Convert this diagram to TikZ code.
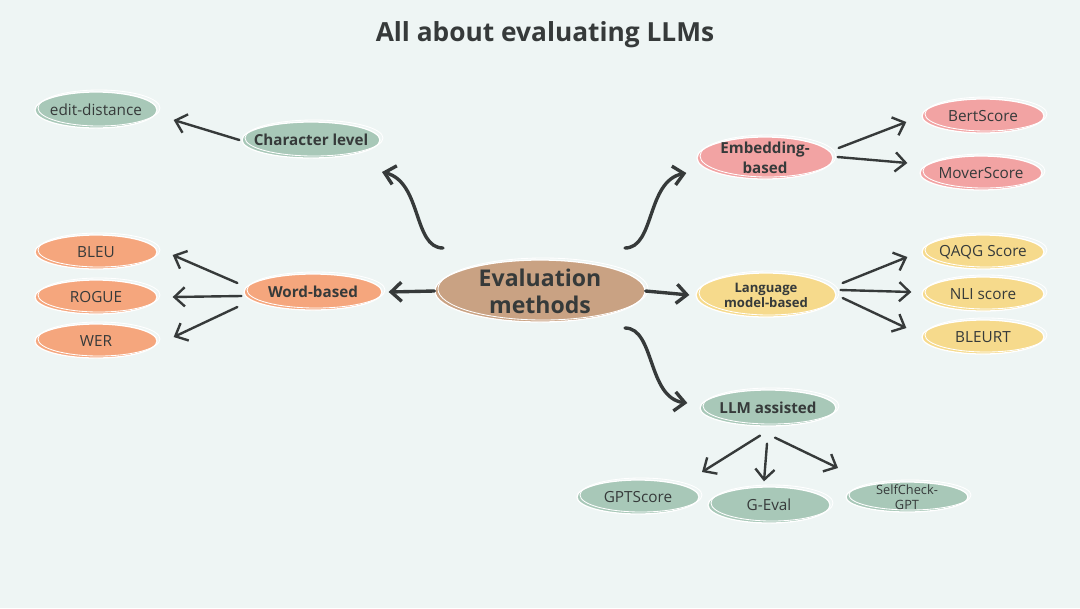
\documentclass[tikz,border=0pt]{standalone}
\usepackage{fontspec}
\setmainfont{Open Sans}
\usetikzlibrary{shapes.geometric,arrows.meta,positioning}

\definecolor{bgmint}{HTML}{EEF5F4}
\definecolor{ink}{HTML}{363A3A}
\definecolor{sage}{HTML}{A8C8B8}
\definecolor{tan}{HTML}{C9A283}
\definecolor{salmon}{HTML}{F5A67D}
\definecolor{rose}{HTML}{F2A3A3}
\definecolor{butter}{HTML}{F6DA8C}

\begin{document}
\begin{tikzpicture}[
  x=0.025cm, y=-0.025cm,
  bubble/.style={ellipse, fill=#1, draw=white, line width=0.9pt, inner sep=-1cm,
                 align=center, text=ink,
                 postaction={draw=white, line width=0.6pt,
                             transform canvas={shift={(3,-2)}}}},
  mid/.style={bubble=#1, minimum width=3.45cm, minimum height=0.9cm,
              font=\bfseries\fontsize{10.8}{14}\selectfont},
  leaf/.style={bubble=#1, minimum width=3.05cm, minimum height=0.85cm,
               font=\fontsize{10.9}{13}\selectfont},
  link/.style={-{Straight Barb[length=2.6mm,width=4.8mm]}, draw=ink,
               line width=2.4pt, line cap=round},
  twig/.style={link, line width=1.7pt},
]
  \useasboundingbox[fill=bgmint] (0,0) rectangle (1080,608);

  \node[font=\bfseries\fontsize{18.7}{22}\selectfont, text=ink] (title) at (545,35)
    {All about evaluating LLMs};

  \node[bubble=tan, minimum width=5.25cm, minimum height=1.55cm,
        font=\bfseries\fontsize{16.4}{19}\selectfont] (ctr) at (540,291)
    {Evaluation\\methods};

  \node[mid=sage] (char) at (311,140) {Character level};
  \node[mid=salmon] (word) at (313,292) {Word-based};
  \node[mid=rose, minimum width=3.4cm, minimum height=1.05cm] (emb) at (765,158)
    {Embedding-\\based};
  \node[mid=butter, minimum width=3.5cm, minimum height=1.1cm,
        font=\bfseries\fontsize{9.3}{10.8}\selectfont] (lm) at (766,295)
    {Language\\model-based};
  \node[mid=sage, minimum width=3.4cm] (llm) at (768,408) {LLM assisted};

  \node[leaf=sage, minimum height=0.9cm] (edit) at (96,110) {edit-distance};
  \node[leaf=salmon] (bleu) at (96,252) {BLEU};
  \node[leaf=salmon] (rogue) at (96,297) {ROGUE};
  \node[leaf=salmon] (wer) at (96,341) {WER};
  \node[leaf=rose] (bert) at (983,116) {BertScore};
  \node[leaf=rose] (mover) at (981,173) {MoverScore};
  \node[leaf=butter] (qaqg) at (983,252) {QAQG Score};
  \node[leaf=butter] (nli) at (983,294) {NLI score};
  \node[leaf=butter] (bleurt) at (983,337) {BLEURT};
  \node[leaf=sage] (gpt) at (638,497) {GPTScore};
  \node[leaf=sage, minimum height=0.9cm] (geval) at (769,505) {G-Eval};
  \node[leaf=sage, minimum height=0.75cm,
        font=\fontsize{9.1}{10.5}\selectfont] (selfcheck) at (907,497) {SelfCheck-\\GPT};

  \draw[link] ([shift={(-97,-43)}]ctr.center) .. controls +(-30,0) and +(40,10)
    .. ([shift={(71,32)}]char.center);
  \draw[link] ([shift={(85,-43)}]ctr.center) .. controls +(30,0) and +(-40,8)
    .. ([shift={(-10,15)}]emb.west);
  \draw[link] ([shift={(85,37)}]ctr.center) .. controls +(30,0) and +(-40,-5)
    .. ([shift={(-12,-5)}]llm.west);
  \draw[link] (ctr.west) -- ([shift={(6,0)}]word.east);
  \draw[link] (ctr.east) -- ([shift={(-6,0)}]lm.west);

  \draw[twig] ([shift={(-2,0)}]char.west) -- ([shift={(16,10)}]edit.east);

  \draw[twig] ([shift={(-6,-9)}]word.west) -- ([shift={(15,3)}]bleu.east);
  \draw[twig] ([shift={(-2,4)}]word.west) -- ([shift={(15,0)}]rogue.east);
  \draw[twig] ([shift={(-6,15)}]word.west) -- ([shift={(16,-4)}]wer.east);

  \draw[twig] ([shift={(5,-10)}]emb.east) -- ([shift={(-15,6)}]bert.west);
  \draw[twig] ([shift={(4,-1)}]emb.east) -- ([shift={(-12,-10)}]mover.west);

  \draw[twig] ([shift={(6,-12)}]lm.east) -- ([shift={(-14,5)}]qaqg.west);
  \draw[twig] ([shift={(4,-5)}]lm.east) -- ([shift={(-10,-2)}]nli.west);
  \draw[twig] ([shift={(6,3)}]lm.east) -- ([shift={(-15,-9)}]bleurt.west);

  \draw[twig] ([shift={(-8,9)}]llm.south) -- ([shift={(64,-25)}]gpt.center);
  \draw[twig] ([shift={(-1,17)}]llm.south) -- ([shift={(-5,-5)}]geval.north);
  \draw[twig] ([shift={(7,11)}]llm.south) -- ([shift={(-69,-29)}]selfcheck.center);
\end{tikzpicture}
\end{document}
